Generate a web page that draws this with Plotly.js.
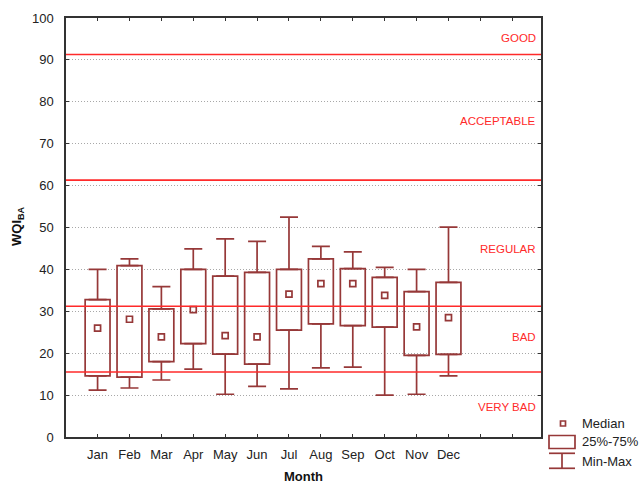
<!DOCTYPE html>
<html>
<head>
<meta charset="utf-8">
<script src="https://cdn.plot.ly/plotly-3.0.1.min.js"></script>
<style>html,body{margin:0;padding:0;background:#fff;}#chart{width:642px;height:484px;}</style>
</head>
<body>
<div id="chart"></div>
<script>
// ---- data ----
const months = ['Jan','Feb','Mar','Apr','May','Jun','Jul','Aug','Sep','Oct','Nov','Dec'];
const slotCount = 14; // 12 months + 2 empty category slots on the axis
const minVals = [11.2, 11.7, 13.6, 16.2, 10.2, 12.1, 11.5, 16.5, 16.7, 10.0, 10.2, 14.6];
const q1Vals  = [14.6, 14.3, 18.0, 22.3, 19.8, 17.4, 25.5, 27.0, 26.6, 26.2, 19.5, 19.7];
const medVals = [26.0, 28.1, 23.9, 30.4, 24.2, 23.9, 34.1, 36.6, 36.6, 33.8, 26.3, 28.5];
const q3Vals  = [32.8, 40.9, 30.6, 40.0, 38.4, 39.3, 40.0, 42.5, 40.2, 38.1, 34.7, 36.9];
const maxVals = [40.0, 42.5, 35.9, 44.9, 47.3, 46.7, 52.5, 45.5, 44.2, 40.5, 40.0, 50.1];
const thresholds = [91.3, 61.3, 31.2, 15.5];
const zoneNames = ['GOOD', 'ACCEPTABLE', 'REGULAR', 'BAD', 'VERY BAD'];
const legendLabels = ['Median', '25%-75%', 'Min-Max'];

// ---- styling / layout ----
const boxColor = '#963838';
const lineRed = '#ff2a2a';
const FONT = 'Arial, Liberation Sans, sans-serif';
const idx = months.map((m, i) => i);

const W = 642, H = 484;
const M = {l: 66, r: 101, t: 18, b: 47};
const pw = W - M.l - M.r, ph = H - M.t - M.b;
const px = x => (x - M.l) / pw;
const py = y => (H - M.b - y) / ph;

const traces = [
  {
    type: 'bar', x: idx, base: q1Vals, y: q3Vals.map((v, i) => v - q1Vals[i]),
    width: 0.78, marker: {color: 'rgba(255,255,255,0)', line: {color: boxColor, width: 1.7}},
    hoverinfo: 'skip', showlegend: false
  },
  {
    type: 'scatter', mode: 'markers', x: idx, y: q3Vals,
    marker: {color: 'rgba(0,0,0,0)', size: 1},
    error_y: {type: 'data', symmetric: false, array: maxVals.map((v, i) => v - q3Vals[i]),
              arrayminus: q3Vals.map(() => 0), width: 9, thickness: 1.7, color: boxColor},
    hoverinfo: 'skip', showlegend: false
  },
  {
    type: 'scatter', mode: 'markers', x: idx, y: q1Vals,
    marker: {color: 'rgba(0,0,0,0)', size: 1},
    error_y: {type: 'data', symmetric: false, array: q1Vals.map(() => 0),
              arrayminus: q1Vals.map((v, i) => v - minVals[i]), width: 9, thickness: 1.7, color: boxColor},
    hoverinfo: 'skip', showlegend: false
  },
  {
    type: 'scatter', mode: 'markers', x: idx, y: medVals,
    marker: {symbol: 'square-open', size: 6, color: boxColor, line: {width: 1.7, color: boxColor}},
    hoverinfo: 'skip', showlegend: false
  }
];

const shapes = thresholds.map(t => ({
  type: 'line', xref: 'paper', x0: 0, x1: 1, yref: 'y', y0: t, y1: t,
  line: {color: lineRed, width: 1.6}, layer: 'above'
}));
// legend symbols
shapes.push({type: 'rect', xref: 'paper', yref: 'paper', x0: px(560.5), x1: px(565.5), y0: py(426), y1: py(421),
  line: {color: boxColor, width: 1.7}, fillcolor: 'rgba(0,0,0,0)'});
shapes.push({type: 'rect', xref: 'paper', yref: 'paper', x0: px(549), x1: px(575), y0: py(448.5), y1: py(435.5),
  line: {color: boxColor, width: 1.7}, fillcolor: 'rgba(0,0,0,0)'});
shapes.push({type: 'line', xref: 'paper', yref: 'paper', x0: px(549), x1: px(575), y0: py(453.3), y1: py(453.3),
  line: {color: boxColor, width: 1.7}});
shapes.push({type: 'line', xref: 'paper', yref: 'paper', x0: px(562), x1: px(562), y0: py(453.3), y1: py(468.3),
  line: {color: boxColor, width: 1.7}});
shapes.push({type: 'line', xref: 'paper', yref: 'paper', x0: px(549), x1: px(575), y0: py(468.3), y1: py(468.3),
  line: {color: boxColor, width: 1.7}});

const zoneY = [95.3, 75.4, 44.9, 23.9, 7.1];
const annotations = zoneNames.map((n, i) => ({
  text: n, xref: 'paper', x: px(537.5), xanchor: 'right', yref: 'y', y: zoneY[i], yanchor: 'middle',
  showarrow: false, font: {family: FONT, size: 11.5, color: lineRed}
}));
const legY = [423.5, 442, 461];
legendLabels.forEach((t, i) => annotations.push({
  text: t, xref: 'paper', x: px(580), xanchor: 'left', yref: 'paper', y: py(legY[i]), yanchor: 'middle',
  showarrow: false, font: {family: FONT, size: 13, color: '#222'}
}));
// y axis title (placed as annotation for exact position)
annotations.push({
  text: '<b>WQI<sub>BA</sub></b>', xref: 'paper', x: px(17), xanchor: 'center',
  yref: 'paper', y: py(226), yanchor: 'middle', textangle: -90, showarrow: false,
  font: {family: FONT, size: 13, color: '#111'}
});

const layout = {
  width: W, height: H,
  margin: M,
  paper_bgcolor: '#fff', plot_bgcolor: '#fff',
  font: {family: FONT, size: 13, color: '#222'},
  showlegend: false,
  xaxis: {
    range: [-0.99, slotCount - 0.1], tickmode: 'array', tickvals: idx, ticktext: months,
    minor: {tickmode: 'linear', tick0: 0, dtick: 1, ticks: 'inside', ticklen: 3, tickcolor: '#333', showgrid: false},
    showgrid: false, zeroline: false, showline: true, linecolor: '#333', linewidth: 1.6,
    mirror: 'ticks', ticks: 'inside', ticklen: 3, tickcolor: '#333', ticklabelstandoff: 5,
    title: {text: '<b>Month</b>', font: {size: 13, color: '#111'}, standoff: 12}
  },
  yaxis: {
    range: [0, 100], tickvals: [0,10,20,30,40,50,60,70,80,90,100],
    showgrid: true, gridcolor: '#a8a8a8', griddash: '1px,2px', gridwidth: 1,
    zeroline: false, showline: true, linecolor: '#333', linewidth: 1.6,
    mirror: 'ticks', ticks: 'inside', ticklen: 3, tickcolor: '#333', ticklabelstandoff: 8
  },
  shapes: shapes,
  annotations: annotations,
  bargap: 0
};

Plotly.newPlot('chart', traces, layout, {staticPlot: true, displayModeBar: false});
</script>
</body>
</html>
